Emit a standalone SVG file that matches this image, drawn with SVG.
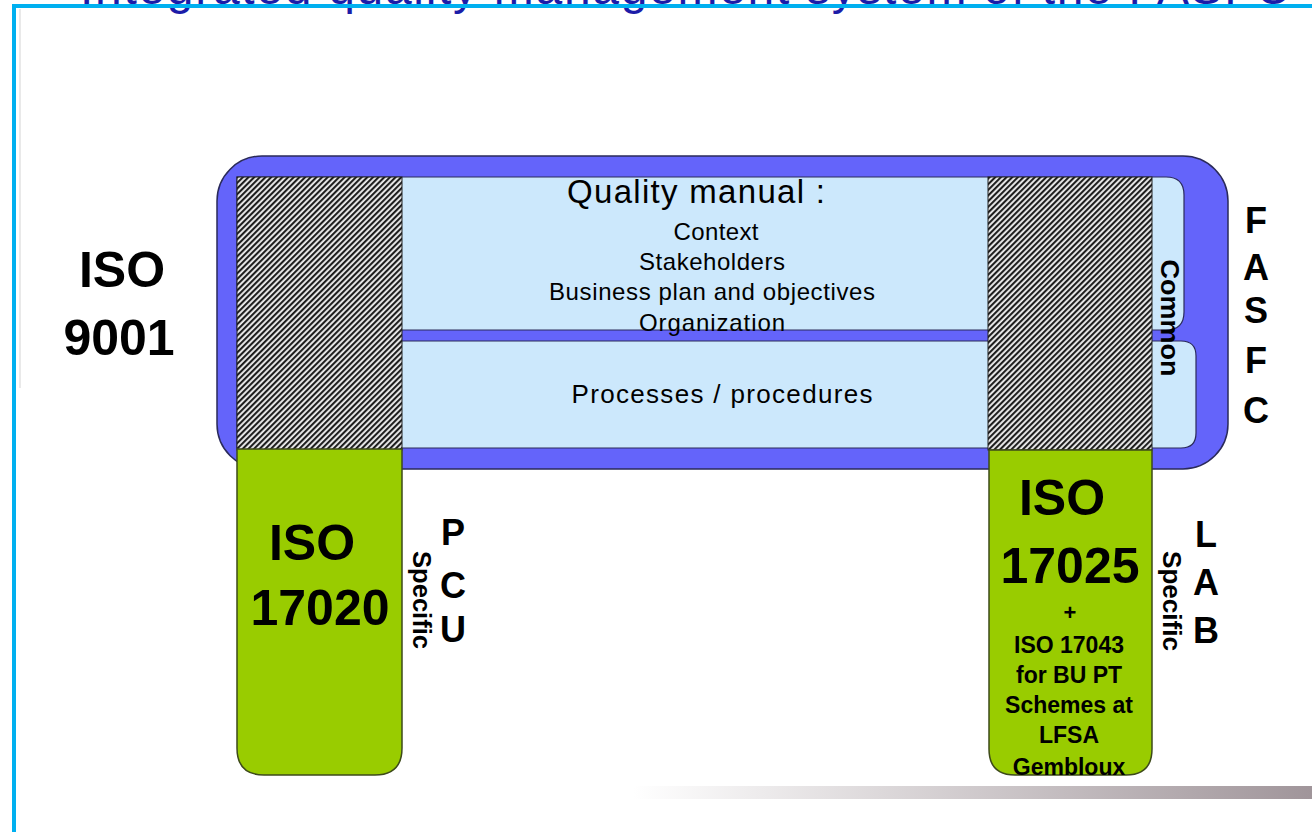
<svg xmlns="http://www.w3.org/2000/svg" width="1312" height="832" viewBox="0 0 1312 832">
<style>
text{font-family:"Liberation Sans",Arial,sans-serif;fill:#000}
.b{font-weight:bold}
.ctr{text-anchor:middle}
.blue{fill:#6464fa;stroke:#2a2a5a;stroke-width:1.5}
.lb{fill:#cce8fc;stroke:#2a2a5a;stroke-width:1.2}
.hatch{fill:url(#hp);stroke:#222;stroke-width:1}
.green{fill:#99cc00;stroke:#3d4a1a;stroke-width:1.5}
</style>
<defs>
<pattern id="hp" patternUnits="userSpaceOnUse" width="4" height="4" patternTransform="rotate(-45)">
<rect width="4" height="4" fill="#eeeeee"/>
<rect width="4" height="2.1" fill="#1e1e1e"/>
</pattern>
<linearGradient id="gbar" x1="0" y1="0" x2="1" y2="0">
<stop offset="0" stop-color="#ffffff"/>
<stop offset="1" stop-color="#a0959a"/>
</linearGradient>
<clipPath id="clipR"><path d="M989,450 H1152 V749 Q1152,775 1126,775 H1015 Q989,775 989,749 Z"/></clipPath>
</defs>
<rect width="1312" height="832" fill="#ffffff"/>
<g id="title">
<text x="80" y="4" font-size="48" style="fill:#1c1ca8" textLength="1210" lengthAdjust="spacing">Integrated quality management system of the FASFC</text>
</g>
<g id="frame">
<line x1="20" y1="9" x2="20" y2="388" stroke="#e2e2e2" stroke-width="1.5"/>
<rect x="12" y="4" width="1300" height="4" fill="#00b0f0"/>
<rect x="12" y="4" width="4" height="828" fill="#00b0f0"/>
<rect x="633" y="786" width="679" height="13" fill="url(#gbar)"/>
</g>
<g id="iso9001-frame">
<rect class="blue" x="217" y="156" width="1011" height="313" rx="45" ry="45"/>
</g>
<g id="quality-manual">
<path class="lb" d="M237,177 H1166 Q1184,177 1184,195 V312 Q1184,330 1166,330 H237 Z"/>
<text class="ctr" x="696" y="203" font-size="33" textLength="258" lengthAdjust="spacing">Quality manual :</text>
<text class="ctr" x="716" y="240" font-size="24" textLength="85" lengthAdjust="spacing">Context</text>
<text class="ctr" x="712" y="270" font-size="24" textLength="146" lengthAdjust="spacing">Stakeholders</text>
<text class="ctr" x="712" y="300" font-size="24" textLength="326" lengthAdjust="spacing">Business plan and objectives</text>
</g>
<g id="processes">
<path class="lb" d="M237,341 H1181 Q1196,341 1196,356 V433 Q1196,448 1181,448 H237 Z"/>
<text class="ctr" x="722" y="403" font-size="26" textLength="301" lengthAdjust="spacing">Processes / procedures</text>
</g>
<g id="organization-label">
<text class="ctr" x="712" y="331" font-size="24" textLength="146" lengthAdjust="spacing">Organization</text>
</g>
<g id="pcu-common">
<rect class="hatch" x="237" y="177" width="165" height="273"/>
</g>
<g id="lab-common">
<rect class="hatch" x="988" y="177" width="164" height="273"/>
</g>
<g id="iso17020">
<path class="green" d="M237,449 H402 V748 Q402,775 375,775 H264 Q237,775 237,748 Z"/>
<text class="ctr b" x="312" y="560" font-size="50">ISO</text>
<text class="ctr b" x="320" y="625" font-size="50">17020</text>
</g>
<g id="iso17025">
<path class="green" d="M989,450 H1152 V749 Q1152,775 1126,775 H1015 Q989,775 989,749 Z"/>
<text class="ctr b" x="1062" y="515" font-size="50">ISO</text>
<text class="ctr b" x="1070" y="583" font-size="50">17025</text>
<g clip-path="url(#clipR)">
<text class="ctr b" x="1070" y="620" font-size="22">+</text>
<text class="ctr b" x="1069" y="653" font-size="23">ISO 17043</text>
<text class="ctr b" x="1069" y="683" font-size="23">for BU PT</text>
<text class="ctr b" x="1069" y="713" font-size="23">Schemes at</text>
<text class="ctr b" x="1069" y="743" font-size="23">LFSA</text>
<text class="ctr b" x="1069" y="775" font-size="23">Gembloux</text>
</g>
</g>
<g id="labels">
<text class="ctr b" x="122" y="287" font-size="50">ISO</text>
<text class="ctr b" x="119" y="355" font-size="50">9001</text>
<text class="ctr" transform="translate(1161,318) rotate(90)" font-size="25" font-weight="600" textLength="117" lengthAdjust="spacingAndGlyphs">Common</text>
<text class="ctr b" transform="translate(413,600) rotate(90)" font-size="25" textLength="98" lengthAdjust="spacingAndGlyphs">Specific</text>
<text class="ctr b" transform="translate(1163,601) rotate(90)" font-size="25" textLength="100" lengthAdjust="spacingAndGlyphs">Specific</text>
<g font-size="36">
<text class="ctr b" x="1256" y="233">F</text>
<text class="ctr b" x="1256" y="280">A</text>
<text class="ctr b" x="1256" y="323">S</text>
<text class="ctr b" x="1256" y="373">F</text>
<text class="ctr b" x="1256" y="423">C</text>
<text class="ctr b" x="453" y="545">P</text>
<text class="ctr b" x="453" y="598">C</text>
<text class="ctr b" x="453" y="642">U</text>
<text class="ctr b" x="1206" y="547">L</text>
<text class="ctr b" x="1206" y="595">A</text>
<text class="ctr b" x="1206" y="643">B</text>
</g>
</g>
<g id="connectors"></g>
</svg>
